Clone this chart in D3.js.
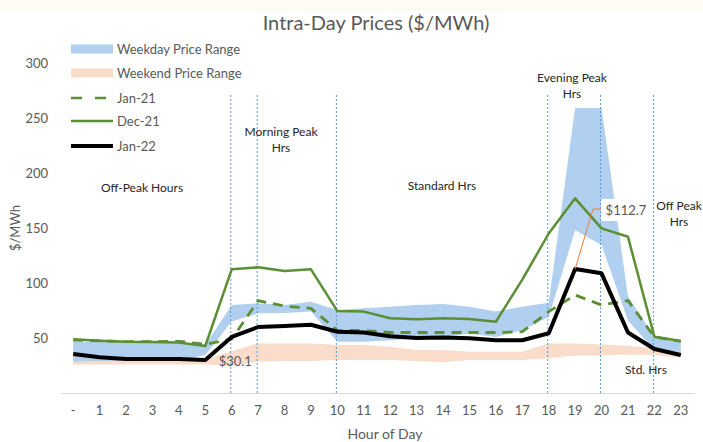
<!DOCTYPE html>
<html>
<head>
<meta charset="utf-8">
<script src="https://d3js.org/d3.v7.min.js"></script>
<style>
  body { margin: 0; background: #fff; }
  text { font-family: Lato, "Open Sans", sans-serif; }
</style>
</head>
<body>
<div id="chart"></div>
<script>
// hour of day categories
var hours = d3.range(0, 24);

// price series ($/MWh)
var jan21 = [48, 47.5, 46.7, 46.7, 47, 44.3, 49, 84, 79, 77, 57, 57, 55, 55, 55, 55, 55, 55.7, 74, 89, 80, 84, 51, 47];
var dec21 = [48.8, 47.6, 46.7, 46.4, 46, 42.7, 112.4, 114.3, 111, 112.4, 74.5, 74, 68, 67, 68, 67.3, 64.8, 103, 145, 177, 149.7, 142, 51.2, 47.3];
var jan22 = [35.5, 32.5, 31, 31, 31, 30.1, 51, 60, 61, 62, 55.7, 55, 51.5, 50, 50.5, 49.7, 48, 48, 54.3, 112.7, 108.8, 55, 40, 34.5];

// price ranges
var weekdayLow  = [28.5, 29, 29, 29, 29.5, 34.5, 65, 72.5, 72.7, 74, 46.6, 46.6, 48, 49.7, 51, 54, 51, 57, 69, 148, 134.5, 66, 39, 37.5];
var weekdayHigh = [46.6, 46.6, 46.5, 46.5, 46, 43.6, 80, 81.5, 80, 83, 75.5, 77, 78.5, 80, 81, 78.5, 74, 78.5, 82, 259, 259, 88, 51, 46.6];
var weekendLow  = [26, 26, 26, 26, 26, 26, 25, 28.5, 29, 29, 30, 30, 30, 29, 28, 30, 30, 30, 31.5, 34, 34, 35, 34.5, 32];
var weekendHigh = [35, 30.5, 30.5, 30.5, 30.5, 30.5, 38, 45, 45, 45, 43.6, 43.6, 42, 39, 39, 37.5, 37.5, 37.5, 45, 45, 44, 43, 40.6, 39];

var yTicks = [50, 100, 150, 200, 250, 300];
// hours where the period dividers sit
var dividers = [6, 7, 10, 18, 20, 22];

var width = 703, height = 442;
var blue = "#b1cfee", peach = "#f9dcc9", green = "#5a8f34", gray = "#595959";

var svg = d3.select("#chart").append("svg")
  .attr("width", width)
  .attr("height", height);

svg.append("rect").attr("width", width).attr("height", 11).attr("fill", "#fdfcf3");

var x = d3.scaleBand().domain(hours).range([60, 694]).padding(0);
var y = d3.scaleLinear().domain([0, 300]).range([393, 63]);
function cx(h) { return x(h) + x.bandwidth() / 2; }

// title
svg.append("text")
  .attr("x", 376).attr("y", 22)
  .attr("text-anchor", "middle").attr("dominant-baseline", "central")
  .attr("font-size", 20).attr("fill", gray)
  .text("Intra-Day Prices ($/MWh)");

// bands
var band = function(lo, hi) {
  return d3.area()
    .x(function(d) { return cx(d); })
    .y0(function(d, i) { return y(lo[i]); })
    .y1(function(d, i) { return y(hi[i]); });
};
svg.append("path").datum(hours).attr("d", band(weekendLow, weekendHigh)).attr("fill", peach);
svg.append("path").datum(hours).attr("d", band(weekdayLow, weekdayHigh)).attr("fill", blue);

// x axis
var xAxis = svg.append("g")
  .attr("transform", "translate(0,393)")
  .call(d3.axisBottom(x).tickSize(0).tickPadding(13)
    .tickFormat(function(d) { return d === 0 ? "-" : d; }));
xAxis.select(".domain").attr("stroke", "#d9d9d9");
xAxis.selectAll("text").attr("font-size", 13).attr("fill", gray)
  .attr("font-family", "Lato, sans-serif");

// y axis (labels only)
var yAxis = svg.append("g")
  .attr("transform", "translate(54,0)")
  .call(d3.axisLeft(y).tickValues(yTicks).tickSize(0).tickPadding(6));
yAxis.select(".domain").remove();
yAxis.selectAll("text").attr("font-size", 13).attr("fill", gray)
  .attr("font-family", "Lato, sans-serif");

svg.append("text")
  .attr("transform", "translate(15,228) rotate(-90)")
  .attr("text-anchor", "middle").attr("dominant-baseline", "central")
  .attr("font-size", 13).attr("fill", gray)
  .text("$/MWh");

svg.append("text")
  .attr("x", 385).attr("y", 433)
  .attr("text-anchor", "middle").attr("dominant-baseline", "central")
  .attr("font-size", 14).attr("fill", gray)
  .text("Hour of Day");

// period dividers
svg.selectAll(".divider").data(dividers).enter().append("line")
  .attr("class", "divider")
  .attr("x1", function(d) { return cx(d) - 1; })
  .attr("x2", function(d) { return cx(d) - 1; })
  .attr("y1", 95).attr("y2", 393)
  .attr("stroke", "#5b9bd5").attr("stroke-width", 1)
  .attr("stroke-dasharray", "2,2");

// price lines
var line = function(vals) {
  return d3.line()
    .x(function(d) { return cx(d); })
    .y(function(d, i) { return y(vals[i]); });
};
svg.append("path").datum(hours).attr("d", line(jan21))
  .attr("fill", "none").attr("stroke", green).attr("stroke-width", 2.8)
  .attr("stroke-dasharray", "10,7");
svg.append("path").datum(hours).attr("d", line(dec21))
  .attr("fill", "none").attr("stroke", green).attr("stroke-width", 2.5)
  .attr("stroke-linejoin", "round");
svg.append("path").datum(hours).attr("d", line(jan22))
  .attr("fill", "none").attr("stroke", "#000").attr("stroke-width", 4)
  .attr("stroke-linejoin", "round");

// period labels
var notes = [
  { t: ["Off-Peak Hours"], x: 142, y: 187 },
  { t: ["Morning Peak", "Hrs"], x: 281, y: 131 },
  { t: ["Standard Hrs"], x: 442, y: 185 },
  { t: ["Evening Peak", "Hrs"], x: 572, y: 77 },
  { t: ["Off Peak", "Hrs"], x: 679, y: 205 },
  { t: ["Std. Hrs"], x: 646, y: 369 }
];
notes.forEach(function(n) {
  n.t.forEach(function(s, i) {
    svg.append("text")
      .attr("x", n.x).attr("y", n.y + i * 16)
      .attr("text-anchor", "middle").attr("dominant-baseline", "central")
      .attr("font-size", 12).attr("fill", "#262626")
      .text(s);
  });
});

// data callouts
var minIdx = 5, maxIdx = 19;
svg.append("text")
  .attr("x", cx(minIdx) + 30).attr("y", 361)
  .attr("text-anchor", "middle").attr("dominant-baseline", "central")
  .attr("font-size", 13).attr("fill", gray)
  .text("$" + jan22[minIdx].toFixed(1));

svg.append("path")
  .attr("d", "M601,209 L593,209 L" + cx(maxIdx) + "," + y(jan22[maxIdx]))
  .attr("fill", "none").attr("stroke", "#ed7d31").attr("stroke-width", 1);
svg.append("rect").attr("x", 601).attr("y", 199).attr("width", 49).attr("height", 22).attr("fill", "#fff");
svg.append("text")
  .attr("x", 626).attr("y", 210)
  .attr("text-anchor", "middle").attr("dominant-baseline", "central")
  .attr("font-size", 13).attr("fill", gray)
  .text("$" + jan22[maxIdx].toFixed(1));

// legend
var legend = [
  { name: "Weekday Price Range", type: "band", color: blue },
  { name: "Weekend Price Range", type: "band", color: peach },
  { name: "Jan-21", type: "dash", color: green },
  { name: "Dec-21", type: "line", color: green },
  { name: "Jan-22", type: "line", color: "#000" }
];
var legY = [49, 73, 98, 121, 146];
legend.forEach(function(d, i) {
  var g = svg.append("g").attr("transform", "translate(71," + legY[i] + ")");
  if (d.type === "band") {
    g.append("rect").attr("x", 0).attr("y", -4.5).attr("width", 42).attr("height", 9).attr("fill", d.color);
  } else {
    g.append("line").attr("x1", 0).attr("x2", 42).attr("y1", 0).attr("y2", 0)
      .attr("stroke", d.color)
      .attr("stroke-width", d.name === "Jan-22" ? 4 : 2.5)
      .attr("stroke-dasharray", d.type === "dash" ? "11,13" : null);
  }
  g.append("text").attr("x", 46).attr("y", 0)
    .attr("dominant-baseline", "central")
    .attr("font-size", 13).attr("fill", gray)
    .text(d.name);
});
</script>
</body>
</html>
